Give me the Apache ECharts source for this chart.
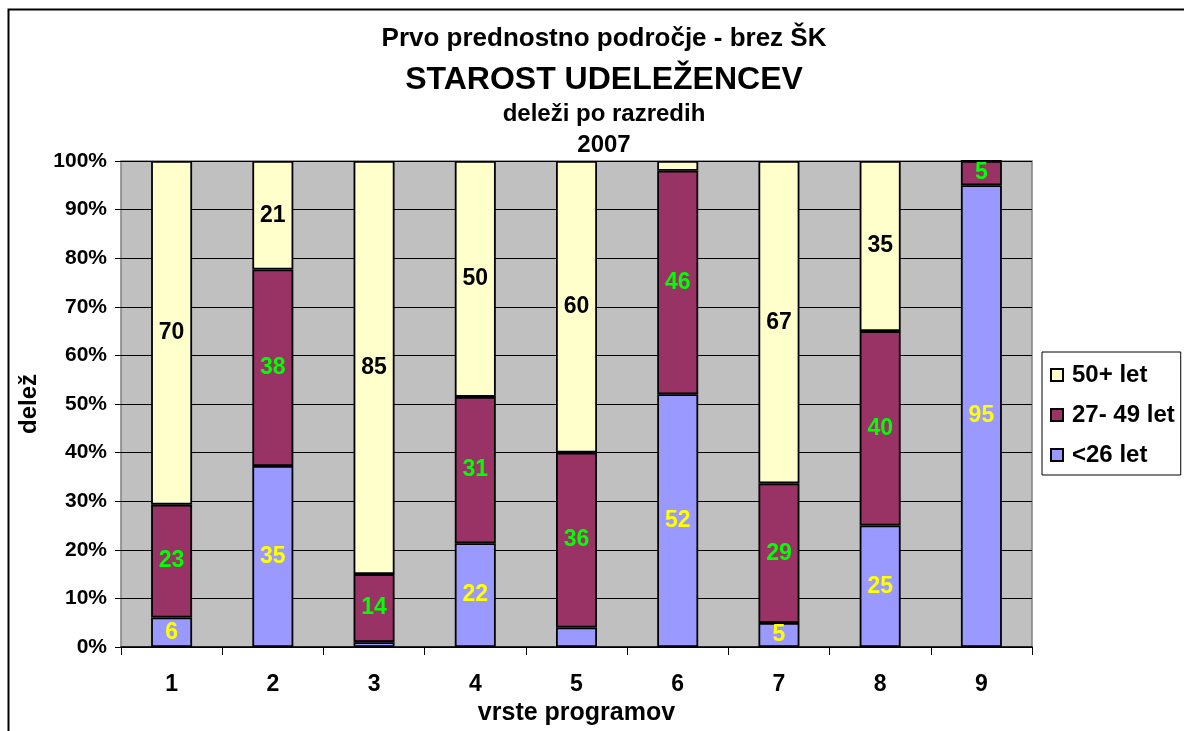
<!DOCTYPE html>
<html>
<head>
<meta charset="utf-8">
<script src="https://cdn.jsdelivr.net/npm/echarts@6/dist/echarts.min.js"></script>
<style>
  html, body { margin: 0; padding: 0; background: #fff; }
  #main { width: 1184px; height: 731px; }
</style>
</head>
<body>
<div id="main"></div>
<script>
// kategorije (vrste programov)
const categories = ['1', '2', '3', '4', '5', '6', '7', '8', '9'];
const yTicks = [0, 10, 20, 30, 40, 50, 60, 70, 80, 90, 100];

// vrednosti po starostnih razredih
const under26 = [6, 35, 1, 22, 4, 52, 5, 25, 95];
const age27to49 = [23, 38, 14, 31, 36, 46, 29, 40, 5];
const over50 = [70, 21, 85, 50, 60, 2, 67, 35, 0];

const FONT = '"Liberation Sans", Arial, sans-serif';

// 100% stack - pretvori v deleže
const totals = categories.map((c, i) => under26[i] + age27to49[i] + over50[i]);
const toPct = arr => arr.map((v, i) => v / totals[i] * 100);

function makeSeries(name, raw, color, labelColor) {
  return {
    name: name,
    type: 'bar',
    stack: 'total',
    barWidth: 41,
    data: toPct(raw),
    itemStyle: { color: color, borderColor: '#000', borderWidth: 1.8 },
    label: {
      show: true,
      position: 'inside',
      color: labelColor,
      fontFamily: FONT,
      fontWeight: 'bold',
      fontSize: 23,
      textBorderWidth: 0,
      formatter: p => raw[p.dataIndex] >= 5 ? String(raw[p.dataIndex]) : ''
    },
    emphasis: { disabled: true },
    animation: false
  };
}

const chart = echarts.init(document.getElementById('main'));

const titleStyle = (size) => ({ fontFamily: FONT, fontWeight: 'bold', fontSize: size, lineHeight: size, color: '#000' });

const option = {
  backgroundColor: '#fff',
  title: [
    { text: 'Prvo prednostno področje - brez ŠK', left: 604, top: 26, textAlign: 'center', padding: 0, textStyle: titleStyle(26) },
    { text: 'STAROST UDELEŽENCEV', left: 604, top: 64, textAlign: 'center', padding: 0, textStyle: titleStyle(32) },
    { text: 'deleži po razredih', left: 604, top: 102, textAlign: 'center', padding: 0, textStyle: titleStyle(24) },
    { text: '2007', left: 604, top: 133, textAlign: 'center', padding: 0, textStyle: titleStyle(24) }
  ],
  graphic: [{
    type: 'rect',
    shape: { x: 8.5, y: 9.5, width: 1300, height: 900 },
    style: { fill: 'none', stroke: '#000', lineWidth: 2 },
    z: -1
  }],
  legend: {
    data: ['50+ let', '27- 49 let', '<26 let'],
    orient: 'vertical',
    left: 1042,
    top: 352,
    padding: [11, 6, 8, 8],
    itemGap: 16,
    itemWidth: 12,
    itemHeight: 12,
    icon: 'rect',
    borderColor: '#000',
    borderWidth: 1,
    backgroundColor: '#fff',
    selectedMode: false,
    textStyle: { fontFamily: FONT, fontWeight: 'bold', fontSize: 24, lineHeight: 22, color: '#000', padding: [0, 0, 0, 4] }
  },
  grid: {
    left: 121, right: 152, top: 161, bottom: 83,
    show: true,
    backgroundColor: '#C0C0C0',
    borderColor: '#808080',
    borderWidth: 1.5
  },
  xAxis: {
    type: 'category',
    data: categories,
    name: 'vrste programov',
    nameLocation: 'middle',
    nameGap: 54,
    nameTextStyle: { fontFamily: FONT, fontWeight: 'bold', fontSize: 25, color: '#000' },
    axisLine: { show: true, lineStyle: { color: '#000', width: 1.5 } },
    axisTick: { show: true, length: 8, interval: 0, lineStyle: { color: '#000' } },
    axisLabel: { margin: 26, interval: 0, fontFamily: FONT, fontWeight: 'bold', fontSize: 23, color: '#000' }
  },
  yAxis: {
    type: 'value',
    min: yTicks[0],
    max: yTicks[yTicks.length - 1],
    interval: 10,
    name: 'delež',
    nameLocation: 'middle',
    nameGap: 80,
    nameTextStyle: { fontFamily: FONT, fontWeight: 'bold', fontSize: 24, color: '#000' },
    axisLine: { show: false },
    axisTick: { show: true, length: 6, lineStyle: { color: '#000' } },
    splitLine: { show: true, lineStyle: { color: '#000', width: 1 } },
    axisLabel: { margin: 14, fontFamily: FONT, fontWeight: 'bold', fontSize: 21, color: '#000', formatter: '{value}%' }
  },
  series: [
    makeSeries('<26 let', under26, '#9999FF', '#FFFF00'),
    makeSeries('27- 49 let', age27to49, '#993366', '#00FF00'),
    makeSeries('50+ let', over50, '#FFFFCC', '#000')
  ]
};

chart.setOption(option);
</script>
</body>
</html>
